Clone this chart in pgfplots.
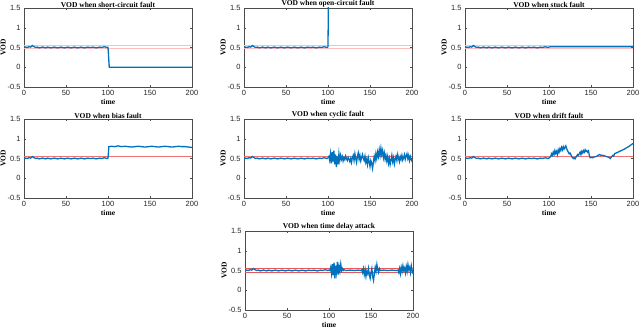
\documentclass[border=0pt]{standalone}
\usepackage{fontspec}
\setmainfont{Liberation Serif}
\setsansfont{Liberation Sans}
\usepackage{pgfplots}
\usepackage{pgfplotstable}
\pgfplotsset{compat=1.18}
\definecolor{mblue}{RGB}{0,114,189}
\definecolor{pinkred}{RGB}{255,190,190}
\definecolor{midred}{RGB}{240,115,115}
\definecolor{redline}{RGB}{235,85,85}

% shared normal-operation segment (t = 0..100)
\pgfplotstableread{
t v
0 0.50
2 0.51
4 0.50
6 0.52
8 0.51
10 0.55
12 0.52
14 0.50
16 0.51
18 0.49
20 0.50
22 0.51
24 0.50
26 0.49
28 0.51
30 0.50
32 0.49
34 0.50
36 0.51
38 0.50
40 0.49
42 0.50
44 0.51
46 0.50
48 0.49
50 0.50
52 0.51
54 0.50
56 0.49
58 0.50
60 0.51
62 0.50
64 0.49
66 0.50
68 0.51
70 0.50
72 0.49
74 0.50
76 0.51
78 0.50
80 0.50
82 0.51
84 0.50
86 0.49
88 0.50
90 0.51
92 0.50
94 0.51
96 0.52
98 0.50
100 0.51
}\normal

\pgfplotstableread{
t v
100 0.51
101.5 0.00
200 0.00
}\shortc

\pgfplotstableread{
t v
100 0.51
101 3.00
200 3.00
}\openc

\pgfplotstableread{
t v
100 0.51
102 0.52
200 0.52
}\stuck

\pgfplotstableread{
t v
100 0.50
101 0.80
104 0.81
108 0.80
112 0.82
116 0.80
120 0.81
124 0.80
128 0.79
132 0.80
136 0.81
140 0.80
144 0.79
148 0.80
152 0.81
156 0.80
160 0.79
164 0.80
168 0.81
172 0.80
176 0.79
180 0.80
184 0.81
188 0.80
192 0.80
196 0.79
200 0.78
}\bias

\pgfplotstableread{
t v
100 0.52
101 0.55
102 0.45
103 0.62
104 0.38
105 0.66
106 0.42
107 0.70
108 0.35
109 0.60
110 0.28
111 0.55
112 0.35
113 0.62
114 0.45
115 0.58
116 0.48
117 0.55
118 0.44
119 0.52
120 0.47
121 0.56
122 0.50
123 0.45
124 0.53
125 0.48
126 0.42
127 0.50
128 0.40
129 0.52
130 0.58
131 0.45
132 0.62
133 0.50
134 0.40
135 0.55
136 0.64
137 0.48
138 0.58
139 0.44
140 0.52
141 0.60
142 0.50
143 0.45
144 0.56
145 0.40
146 0.48
147 0.35
148 0.52
149 0.42
150 0.30
151 0.45
152 0.38
153 0.25
154 0.40
155 0.55
156 0.45
157 0.62
158 0.50
159 0.66
160 0.55
161 0.72
162 0.58
163 0.76
164 0.60
165 0.70
166 0.52
167 0.64
168 0.48
169 0.58
170 0.44
171 0.55
172 0.38
173 0.50
174 0.35
175 0.46
176 0.58
177 0.42
178 0.52
179 0.36
180 0.48
181 0.56
182 0.45
183 0.60
184 0.50
185 0.42
186 0.55
187 0.48
188 0.58
189 0.46
190 0.52
191 0.60
192 0.48
193 0.56
194 0.62
195 0.50
196 0.58
197 0.45
198 0.55
199 0.48
200 0.42
}\cyclic

\pgfplotstableread{
t v
100 0.51
102 0.55
103 0.62
104 0.58
105 0.66
106 0.60
107 0.70
108 0.63
109 0.68
110 0.60
111 0.72
112 0.66
113 0.75
114 0.70
115 0.78
116 0.72
117 0.80
118 0.74
119 0.78
120 0.82
121 0.75
122 0.70
123 0.66
124 0.62
125 0.64
126 0.60
127 0.55
128 0.52
129 0.50
130 0.52
131 0.49
132 0.53
133 0.56
134 0.60
135 0.58
136 0.62
137 0.66
138 0.60
139 0.68
140 0.64
141 0.70
142 0.66
143 0.72
144 0.68
145 0.70
146 0.66
147 0.69
148 0.58
149 0.52
150 0.53
152 0.52
154 0.54
156 0.55
158 0.57
160 0.60
162 0.58
164 0.58
166 0.57
168 0.55
170 0.54
172 0.52
173 0.50
174 0.53
176 0.58
177 0.56
178 0.62
180 0.64
182 0.66
184 0.68
186 0.70
188 0.72
190 0.74
192 0.77
194 0.79
196 0.82
198 0.85
200 0.88
}\drift

\pgfplotstableread{
t v
100 0.51
101 0.50
102 0.58
103 0.42
104 0.66
105 0.38
106 0.70
107 0.30
108 0.62
109 0.45
110 0.72
111 0.40
112 0.60
113 0.48
114 0.66
115 0.50
116 0.55
117 0.50
118 0.52
120 0.50
125 0.51
130 0.50
135 0.51
138 0.50
139 0.52
140 0.45
141 0.55
142 0.40
143 0.52
144 0.35
145 0.48
146 0.42
147 0.55
148 0.38
149 0.30
150 0.45
151 0.55
152 0.35
153 0.25
154 0.42
155 0.58
156 0.48
157 0.65
158 0.52
159 0.45
160 0.55
161 0.50
165 0.51
170 0.50
175 0.51
180 0.50
182 0.51
183 0.45
184 0.55
185 0.42
186 0.58
187 0.48
188 0.62
189 0.50
190 0.56
191 0.44
192 0.60
193 0.48
194 0.65
195 0.52
196 0.58
197 0.45
198 0.62
199 0.50
200 0.42
}\delay

\pgfplotsset{
  vodaxis/.style={
    scale only axis, width=168pt, height=79pt, anchor=south west,
    xmin=0, xmax=200, ymin=-0.5, ymax=1.5,
    xtick={0,50,100,150,200}, ytick={-0.5,0,0.5,1,1.5},
    tick align=inside, major tick length=2pt,
    axis line style={gray!60!black, line width=0.4pt},
    tick style={gray!60!black},
    /pgf/number format/assume math mode=true,
    tick label style={font=\sffamily\fontsize{7.5}{8}\selectfont, text=gray!30!black},
    xlabel={time}, ylabel={VOD},
    label style={font=\bfseries\fontsize{7.5}{8}\selectfont},
    xlabel style={yshift=3pt}, ylabel style={yshift=-5pt},
    title style={font=\bfseries\fontsize{7.5}{8}\selectfont, yshift=-9pt},
  },
  vod/.style={mblue, line width=1.3pt},
}

\begin{document}
\begin{tikzpicture}
\useasboundingbox (0pt,0pt) rectangle (640pt,332pt);

\begin{axis}[vodaxis, at={(24pt,245pt)}, title={VOD when short-circuit fault}]
\addplot[pinkred, line width=1.2pt] coordinates {(0,0.56) (200,0.56)};
\addplot[pinkred, line width=1.2pt] coordinates {(0,0.48) (200,0.48)};
\addplot[vod] table {\normal};
\addplot[vod] table {\shortc};
\end{axis}

\begin{axis}[vodaxis, at={(244pt,245pt)}, title={VOD when open-circuit fault}]
\addplot[pinkred, line width=1.2pt] coordinates {(0,0.56) (200,0.56)};
\addplot[pinkred, line width=1.2pt] coordinates {(0,0.48) (200,0.48)};
\addplot[vod] table {\normal};
\addplot[vod] table {\openc};
\end{axis}

\begin{axis}[vodaxis, at={(465pt,245pt)}, title={VOD when stuck fault}]
\addplot[pinkred, line width=1.2pt] coordinates {(0,0.56) (200,0.56)};
\addplot[pinkred, line width=1.2pt] coordinates {(0,0.48) (200,0.48)};
\addplot[vod] table {\normal};
\addplot[vod] table {\stuck};
\end{axis}

\begin{axis}[vodaxis, at={(24pt,134pt)}, title={VOD when bias fault}]
\addplot[midred, line width=1pt] coordinates {(0,0.54) (200,0.54)};
\addplot[vod] table {\normal};
\addplot[vod] table {\bias};
\end{axis}

\begin{axis}[vodaxis, at={(244pt,134pt)}, title={VOD when cyclic fault}]
\addplot[midred, line width=1pt] coordinates {(0,0.54) (200,0.54)};
\addplot[vod] table {\normal};
\addplot[vod] table {\cyclic};
\end{axis}

\begin{axis}[vodaxis, at={(465pt,134pt)}, title={VOD when drift fault}]
\addplot[midred, line width=1pt] coordinates {(0,0.54) (200,0.54)};
\addplot[vod] table {\normal};
\addplot[vod] table {\drift};
\end{axis}

\begin{axis}[vodaxis, at={(245pt,22pt)}, title={VOD when time delay attack}]
\addplot[redline, line width=1pt] coordinates {(0,0.55) (200,0.55)};
\addplot[redline, line width=1pt] coordinates {(0,0.45) (200,0.45)};
\addplot[vod] table {\normal};
\addplot[vod] table {\delay};
\end{axis}
\end{tikzpicture}
\end{document}
